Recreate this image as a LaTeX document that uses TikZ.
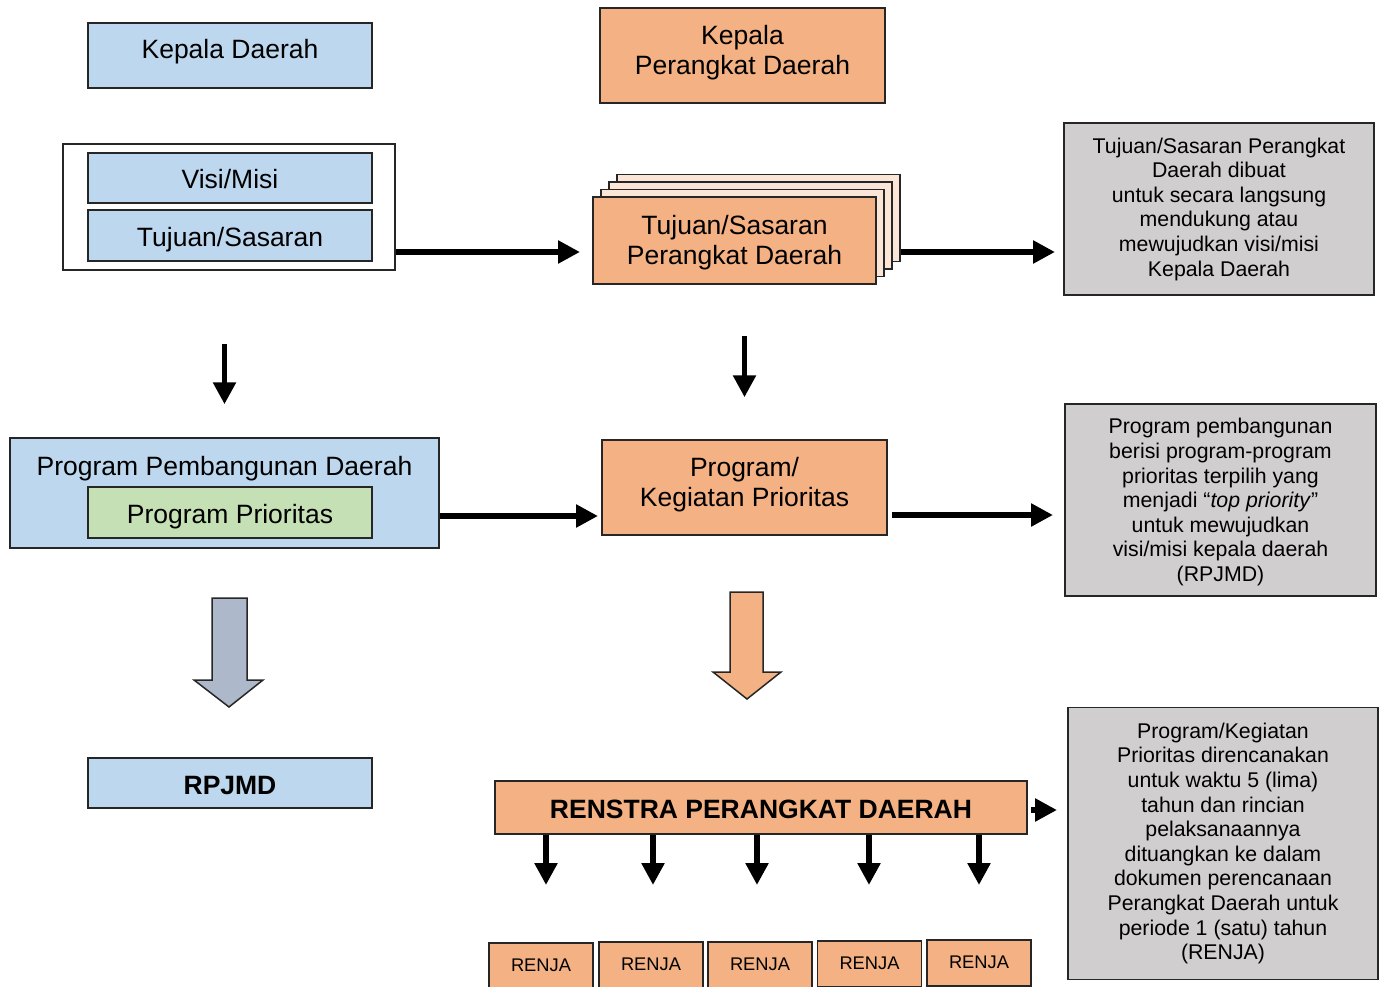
\documentclass[tikz,border=0pt]{standalone}
\usepackage{fontspec}
\setmainfont{Liberation Sans}
\usepackage{tikz}
\usetikzlibrary{arrows.meta}
\usetikzlibrary{positioning}
\definecolor{blueF}{HTML}{BDD7EE}
\definecolor{orangeF}{HTML}{F4B183}
\definecolor{peachF}{HTML}{FBE5D6}
\definecolor{greenF}{HTML}{C5E0B4}
\definecolor{greyF}{HTML}{D0CECE}
\definecolor{slateF}{HTML}{ADB9CA}
\newcommand\bigfont{\fontsize{26.5}{30}\selectfont}
\newcommand\notefont{\fontsize{21.3}{24.6}\selectfont}
\newcommand\renjafont{\fontsize{18.3}{21}\selectfont}
\newcommand\padtop[1]{\rule{0pt}{#1}}
\newcommand\padbot[1]{\rule[-#1]{0pt}{#1}}
\tikzset{>=Triangle}
\tikzset{
    box/.style = {draw=black!85, line width=1.5pt, inner sep=2pt, align=center, font=\bigfont},
    oneline/.style = {text height=25pt, text depth=3pt},
    bluebox/.style = {box, fill=blueF},
    orangebox/.style = {box, fill=orangeF},
    layer/.style = {box, fill=peachF, minimum width=283pt, minimum height=87pt},
    greenbox/.style = {box, fill=greenF},
    note/.style = {box, fill=greyF, font=\notefont, minimum width=310pt},
    renja/.style = {orangebox, font=\renjafont, minimum width=104pt, minimum height=46pt, text height=14pt, text depth=3pt},
    flow/.style = {line width=5.5pt, -{Triangle[length=22pt,width=22pt]}},
    fatarrow/.style = {draw=black!85, line width=1.5pt, line join=miter},
}
\begin{document}
\begin{tikzpicture}[x=1pt,y=-1pt]
\clip (0,0) rectangle (1382,987);
% top row
\node[bluebox, text height=19pt, text depth=12pt, minimum width=284pt, minimum height=65pt] (kd) at (230,55.5) {Kepala Daerah};
\node[orangebox, minimum width=285pt, minimum height=95pt] (kpd) at (742.5,55.5) {Kepala\\Perangkat Daerah\padbot{12pt}};
% visi/misi group
\node[box, fill=white, minimum width=332pt, minimum height=126pt] (frame) at (229,207) {};
\node[bluebox, oneline, minimum width=284pt, minimum height=50pt] (visi) at (230,178) {Visi/Misi};
\node[bluebox, oneline, minimum width=284pt, minimum height=51pt] (tujuan) at (230,235.5) {Tujuan/Sasaran};
% stacked copies
\node[layer] (tsp3) at (758.5,218) {};
\node[layer] (tsp2) at (750.5,225.5) {};
\node[layer] (tsp1) at (742.5,233) {};
\node[orangebox, minimum width=283pt, minimum height=87pt] (tsp) at (734.5,240.5) {\padtop{24pt}Tujuan/Sasaran\\Perangkat Daerah};
\node[note, minimum height=172pt] (note1) at (1219,209) {Tujuan/Sasaran Perangkat\\Daerah dibuat\\untuk secara langsung\\mendukung atau\\mewujudkan visi/misi\\Kepala Daerah};
% program row
\node[bluebox, minimum width=429pt, minimum height=110pt] (ppd) at (224.5,493) {};
\node[font=\bigfont, oneline, inner sep=0pt] (ppdtitle) at (224.5,464.5) {Program Pembangunan Daerah};
\node[greenbox, oneline, minimum width=284pt, minimum height=51pt] (pp) at (230,512.5) {Program Prioritas};
\node[orangebox, minimum width=285pt, minimum height=95pt] (pkp) at (744.5,487.5) {Program/\\Kegiatan Prioritas\padbot{11pt}};
\node[note, minimum width=311pt, minimum height=192pt] (note2) at (1220.5,500) {\padtop{20pt}Program pembangunan\\berisi program-program\\prioritas terpilih yang\\menjadi “\textit{top priority}”\\untuk mewujudkan\\visi/misi kepala daerah\\(RPJMD)};
% bottom row
\node[bluebox, oneline, font=\bigfont\bfseries, minimum width=284pt, minimum height=50pt] (rpjmd) at (230,783) {RPJMD};
\node[orangebox, oneline, font=\bigfont\bfseries, minimum width=532pt, minimum height=53pt] (renstra) at (761,807.5) {RENSTRA PERANGKAT DAERAH};
\node[note, minimum height=272pt] (note3) at (1223,843.5) {Program/Kegiatan\\Prioritas direncanakan\\untuk waktu 5 (lima)\\tahun dan rincian\\pelaksanaannya\\dituangkan ke dalam\\dokumen perencanaan\\Perangkat Daerah untuk\\periode 1 (satu) tahun\\(RENJA)};
\foreach \i/\x/\y in {1/541/966, 2/651/965, 3/760/965, 4/869.5/964, 5/979/963}
    \node[renja] (renja\i) at (\x,\y) {RENJA};
% arrows
\coordinate (a1) at (580,252);
\coordinate (a2) at (1055,252);
\coordinate (a3) at (598,516);
\coordinate (a4) at (1053,515);
\coordinate (a5) at (1057,810);
\draw[flow] (frame.east |- a1) -- (a1);
\draw[flow] (tsp3.east |- a2) -- (a2);
\draw[flow] (ppd.east |- a3) -- (a3);
\draw[flow, shorten <=4pt] (pkp.east |- a4) -- (a4);
\draw[flow, shorten <=3pt] (renstra.east |- a5) -- (a5);
\draw[flow, shorten <=73pt, shorten >=33pt] (frame.south -| ppd.north) -- (ppd.north);
\draw[flow, shorten <=51pt, shorten >=42pt] (tsp.south -| pkp.north) -- (pkp.north);
\foreach \i/\x in {1/546, 2/653, 3/757, 4/869, 5/979} {
    \coordinate (e\i) at (\x,885);
    \draw[flow] (renstra.south -| e\i) -- (e\i);
}
% block arrows
\draw[fatarrow, fill=slateF] (212,598) -- (247,598) -- (247,680) -- (263,680) -- (229,707) -- (194,680) -- (212,680) -- cycle;
\draw[fatarrow, fill=orangeF] (730,592) -- (763,592) -- (763,672) -- (781,672) -- (747,699) -- (713,672) -- (730,672) -- cycle;
\end{tikzpicture}
\end{document}
